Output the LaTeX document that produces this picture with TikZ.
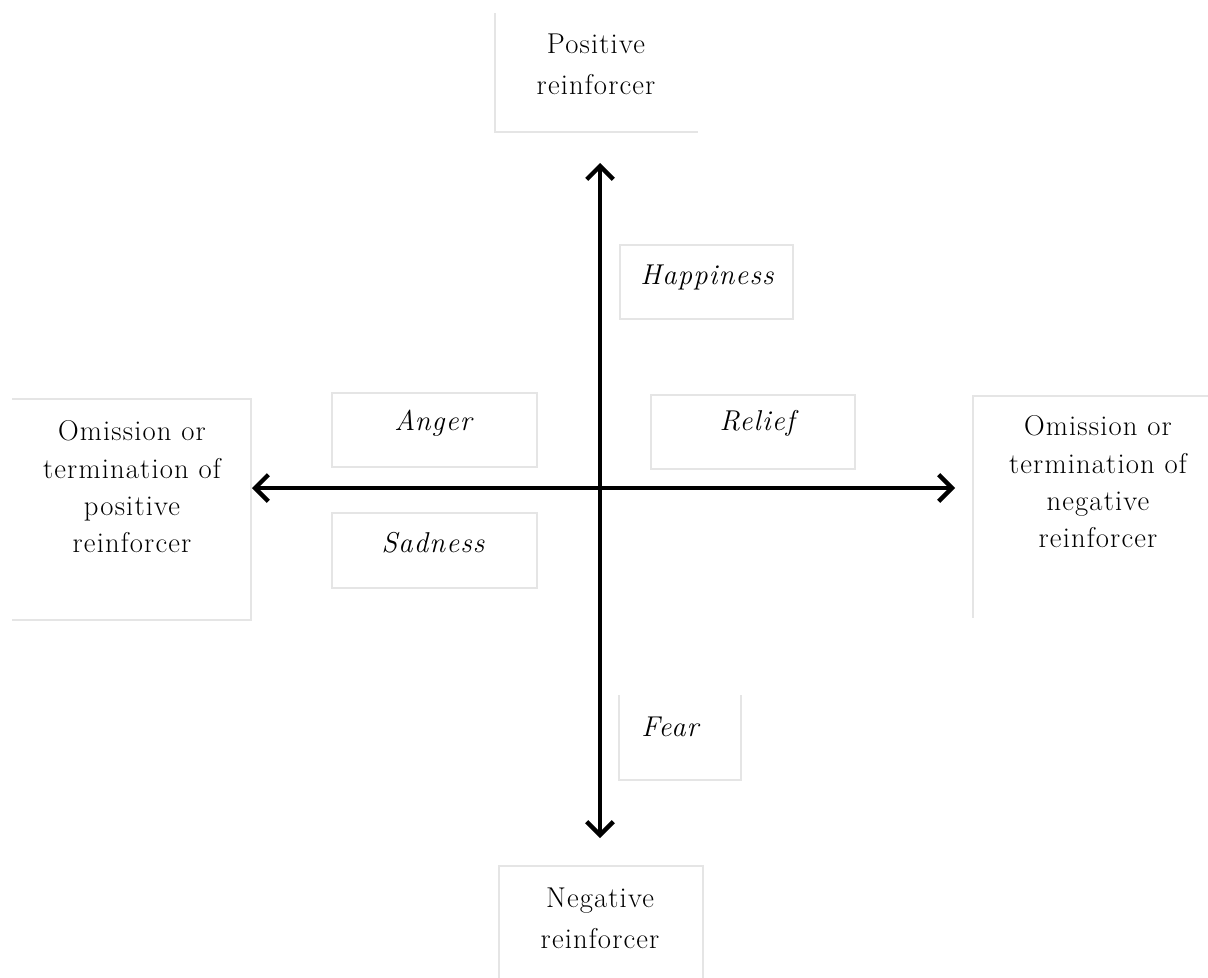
\documentclass[tikz,border=0pt]{standalone}
\usepackage{fontspec}
\setmainfont{Latin Modern Roman}[LetterSpace=4]
\usetikzlibrary{arrows.meta}
\begin{document}
\begin{tikzpicture}[x=0.75pt,y=-0.75pt,
  frame/.style={draw=black!10, line width=1pt},
  lbl/.style={align=center, inner sep=0pt, font=\fontsize{21.5}{28}\selectfont},
  emo/.style={inner sep=0pt, font=\fontsize{21.5}{28}\selectfont\itshape},
  axis/.style={line width=3.2pt, {Straight Barb[length=10pt,width=20pt]}-{Straight Barb[length=10pt,width=20pt]}}]
\useasboundingbox (0,0) rectangle (1208,978);
% box areas
\path (495,13) coordinate (posA) (698,132) coordinate (posB);
\path (620,245) coordinate (hapA) (793,319) coordinate (hapB);
\path (12,399) coordinate (lomA) (251,620) coordinate (lomB);
\path (973,396) coordinate (romA) (1215,618) coordinate (romB);
\path (332,393) coordinate (angA) (537,467) coordinate (angB);
\path (332,513) coordinate (sadA) (537,588) coordinate (sadB);
\path (651,395) coordinate (relA) (855,469) coordinate (relB);
\path (619,695) coordinate (fearA) (741,780) coordinate (fearB);
\path (499,866) coordinate (negA) (703,990) coordinate (negB);
% frames (only the sides that show)
\draw[frame] (posA) -- (posA |- posB) -- (posB);
\draw[frame] (hapA) rectangle (hapB);
\draw[frame] (lomA) -- (lomB |- lomA) -- (lomB) -- (lomA |- lomB);
\draw[frame] (romA |- romB) -- (romA) -- (romB |- romA);
\draw[frame] (angA) rectangle (angB);
\draw[frame] (sadA) rectangle (sadB);
\draw[frame] (relA) rectangle (relB);
\draw[frame] (fearA) -- (fearA |- fearB) -- (fearB) -- (fearB |- fearA);
\draw[frame] (negA |- negB) -- (negA) -- (negB |- negA) -- (negB);
% texts
\node[lbl, font=\fontsize{21.5}{31}\selectfont] (pos) at (596,64) {Positive\\reinforcer};
\node[emo] (hap) at (707,277) {Happiness};
\node[lbl] (lom) at (132,487) {Omission or\\termination of\\positive\\reinforcer};
\node[lbl] (rom) at (1098,482) {Omission or\\termination of\\negative\\reinforcer};
\node[emo] (ang) at (433,423) {Anger};
\node[emo] (sad) at (433,543) {Sadness};
\node[emo] (rel) at (757,423) {Relief};
\node[emo] (fear) at (670,727) {Fear};
\node[lbl, font=\fontsize{21.5}{31}\selectfont] (neg) at (600,918) {Negative\\reinforcer};
% axes
\coordinate (c) at (600,488);
\coordinate (tipL) at (252,488);
\coordinate (tipR) at (955,488);
\coordinate (tipT) at (600,163);
\coordinate (tipB) at (600,838);
\draw[axis] (tipL) -- (tipR);
\draw[axis] (tipT) -- (tipB);
\end{tikzpicture}
\end{document}
